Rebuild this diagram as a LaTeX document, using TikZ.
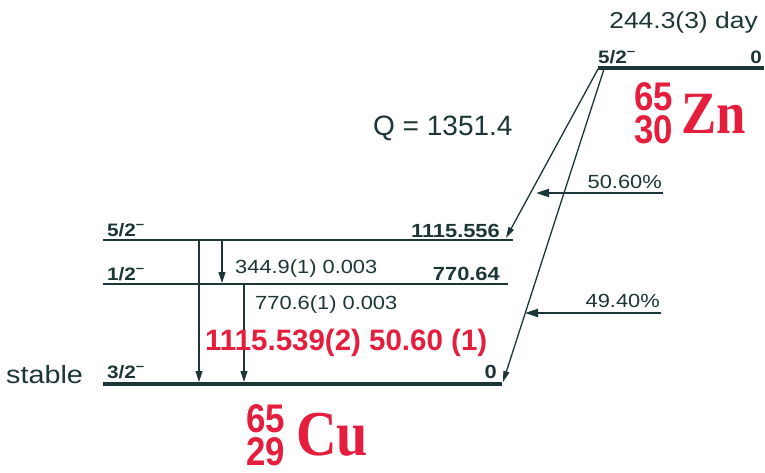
\documentclass[tikz,border=0pt]{standalone}
\usepackage{fontspec}
\setmainfont[FakeStretch=1.15]{Liberation Sans}
\newfontfamily\plainsans{Liberation Sans}
\newfontfamily\narrowsans[FakeStretch=0.87]{Liberation Sans}
\newfontfamily\elemfont[FakeStretch=0.88]{Liberation Serif}
\usepackage{tikz}
\usetikzlibrary{arrows.meta}
\usepackage{xcolor}
\definecolor{ink}{HTML}{1C3536}
\definecolor{nucred}{HTML}{E41E3C}
\newcommand{\spinpar}[1]{#1\raisebox{0.42em}{\fontsize{13}{13}\selectfont\textendash}}
\newcommand{\fsz}[1]{\fontsize{#1}{#1}\selectfont}

\begin{document}
\begin{tikzpicture}[x=1pt,y=-1pt,
  lvl/.style={draw=ink,line width=2pt},
  gslvl/.style={draw=ink,line width=4pt},
  lab/.style={inner sep=0pt,text=ink},
  jlab/.style={lab,font=\fsz{18}\bfseries},
  elab/.style={lab,font=\fsz{19}\bfseries},
  glab/.style={lab,font=\fsz{19},anchor=base west},
  nuc/.style={inner sep=0pt,text=nucred,anchor=base west},
  massch/.style={inner sep=0pt,text=nucred,anchor=north west,align=left,
    font=\narrowsans\fontsize{40}{33}\selectfont\bfseries},
  gam/.style={draw=ink,line width=1.1pt,-{Triangle[length=11pt,width=7pt]}},
  bet/.style={draw=ink,line width=1.3pt,-{Triangle[length=11pt,width=6pt]}},
  feed/.style={draw=ink,line width=2pt,-{Triangle[length=13pt,width=8pt]}}
]
\useasboundingbox (0,0) rectangle (765,472);

% parent 65Zn
\coordinate (znL) at (598,68);
\coordinate (znR) at (764,68);
\draw[gslvl] (znL) -- (znR);
\node[jlab,anchor=base west] (znspin) at (598,63) {\spinpar{5/2}};
\node[jlab,anchor=base east] (znen) at (762,63) {0};
\node[lab,anchor=base east,font=\fsz{23}] (halflife) at (758,28) {244.3(3) day};
\node[massch] (znAZ) at (634,82) {65\\30};
\node[nuc,font=\elemfont\fsz{60}\bfseries] (znsym) at (681,133) {Zn};
\node[lab,anchor=base west,font=\plainsans\fsz{28}] (qval) at (373,135) {Q = 1351.4};

% daughter levels
\coordinate (l1L) at (103,240);
\coordinate (l1R) at (513,240);
\coordinate (l2L) at (103,284);
\coordinate (l2R) at (508,284);
\coordinate (l0L) at (103,384);
\coordinate (l0R) at (502,384);
\draw[lvl] (l1L) -- (l1R);
\draw[lvl] (l2L) -- (l2R);
\draw[gslvl] (l0L) -- (l0R);
\node[jlab,anchor=base west] (l1spin) at (107,236) {\spinpar{5/2}};
\node[elab,anchor=base east] (l1en) at (500,237) {1115.556};
\node[jlab,anchor=base west] (l2spin) at (107,280) {\spinpar{1/2}};
\node[elab,anchor=base east] (l2en) at (500,280) {770.64};
\node[jlab,anchor=base west] (l0spin) at (107,378) {\spinpar{3/2}};
\node[elab,anchor=base east] (l0en) at (497,378) {0};
\node[lab,anchor=base west,font=\fsz{25}] (stable) at (6,383) {stable};

% beta feeding
\coordinate (b1top) at (598,69);
\coordinate (b2top) at (604,69);
\coordinate (b1end) at (506,238);
\coordinate (b2end) at (503,382);
\draw[bet] (b1top) -- (b1end);
\draw[bet] (b2top) -- (b2end);
\coordinate (f1start) at (663,193);
\coordinate (f1end) at (536,193);
\coordinate (f2start) at (661,313);
\coordinate (f2end) at (525,313);
\draw[feed] (f1start) -- (f1end);
\draw[feed] (f2start) -- (f2end);
\node[lab,anchor=base east,font=\fsz{19}] (f1lab) at (662,188) {50.60\%};
\node[lab,anchor=base east,font=\fsz{19}] (f2lab) at (660,307) {49.40\%};

% gammas
\coordinate (g1top) at (199,241);
\coordinate (g1bot) at (199,382);
\coordinate (g2top) at (222,241);
\coordinate (g2bot) at (222,283);
\coordinate (g3top) at (244,285);
\coordinate (g3bot) at (244,382);
\draw[gam] (g1top) -- (g1bot);
\draw[gam] (g2top) -- (g2bot);
\draw[gam] (g3top) -- (g3bot);
\node[glab] (g2lab) at (235,273) {344.9(1) 0.003};
\node[glab] (g3lab) at (255,309) {770.6(1) 0.003};
\node[nuc,font=\plainsans\fsz{29.5}\bfseries] (g1lab) at (205,350) {1115.539(2) 50.60 (1)};

% daughter 65Cu
\node[massch] (cuAZ) at (246,404) {65\\29};
\node[nuc,font=\elemfont\fsz{64}\bfseries] (cusym) at (296,455) {Cu};
\end{tikzpicture}
\end{document}
